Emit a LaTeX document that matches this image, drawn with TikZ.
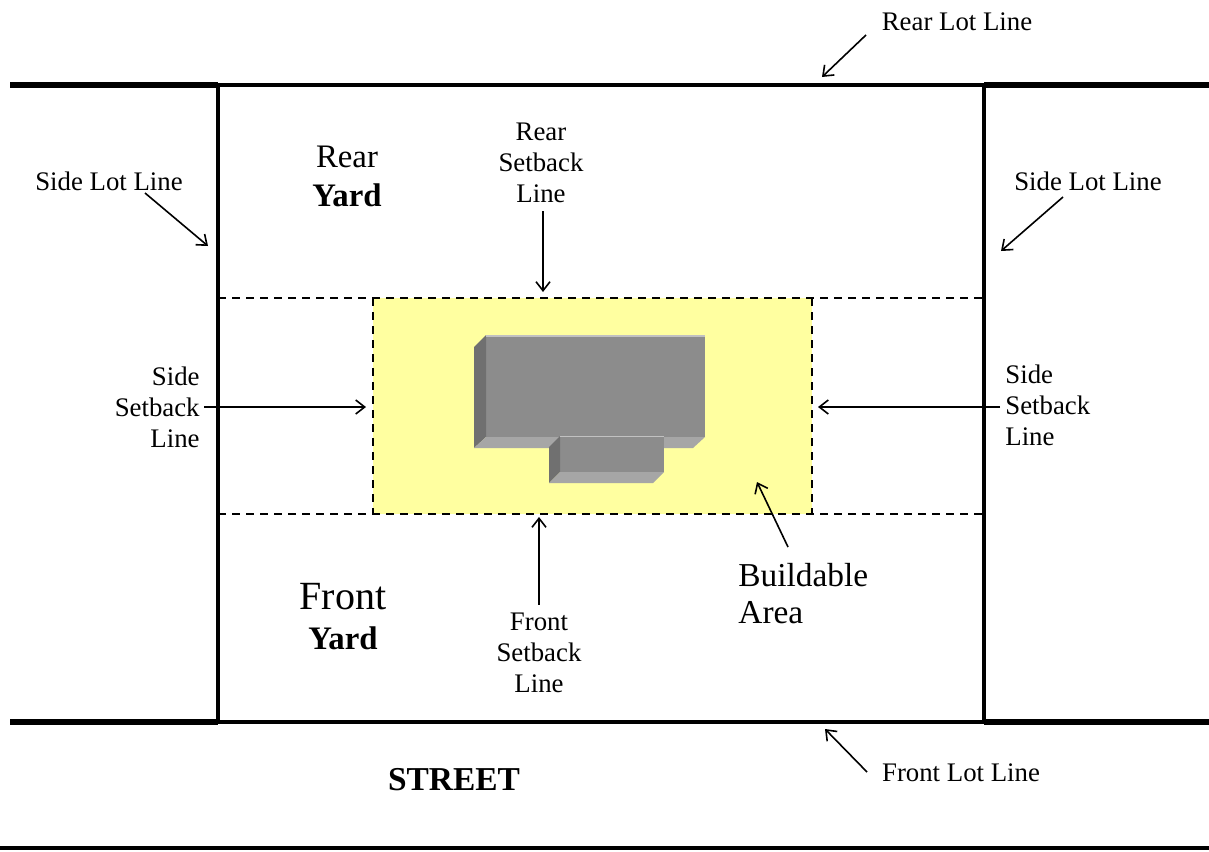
\documentclass[tikz,border=0pt]{standalone}
\usepackage{fontspec}
\setmainfont{Liberation Serif}
\usetikzlibrary{positioning,arrows.meta}

\definecolor{buildyellow}{RGB}{255,255,160}
\definecolor{facegray}{RGB}{140,140,140}
\definecolor{sidegray}{RGB}{112,112,112}
\definecolor{basegray}{RGB}{166,166,166}

\begin{document}
\begin{tikzpicture}[x=0.5pt, y=-0.5pt,
        streetline/.style={line width=2.6pt},
        lotline/.style={line width=1.8pt},
        sideline/.style={line width=2pt},
        setback/.style={line width=0.7pt, dash pattern=on 4pt off 3pt},
        smalltext/.style={font=\fontsize{13.4}{15.5}\selectfont, align=center, inner sep=0pt},
        yardtext/.style={font=\fontsize{16.4}{19}\selectfont, inner sep=0pt},
        areatext/.style={font=\fontsize{16.7}{18.5}\selectfont, align=left, inner sep=0pt}
    ]

    %styles
    \tikzstyle{pointer}=[-{Straight Barb[length=4.5pt,width=7pt]},line width=0.8pt]
    \tikzstyle{edge}=[basegray!70!white,line width=0.6pt]

    \useasboundingbox (0,0) rectangle (1209,851);

    %buildable area
    \fill[buildyellow] (373,298) rectangle (812,514);
    \draw[setback] (218,298) -- (984,298);
    \draw[setback] (218,514) -- (984,514);
    \draw[setback] (373,298) -- (373,514);
    \draw[setback] (812,298) -- (812,514);

    %building
    \fill[facegray] (486,335) rectangle (705,437);
    \fill[sidegray] (486,335) -- (474,347) -- (474,448) -- (486,437) -- cycle;
    \fill[basegray] (474,448) -- (486,437) -- (705,437) -- (693,448) -- cycle;
    \draw[edge] (486,336) -- (705,336);
    \fill[facegray] (560,436) rectangle (664,472);
    \fill[sidegray] (560,436) -- (549,447) -- (549,483) -- (560,472) -- cycle;
    \fill[basegray] (549,483) -- (560,472) -- (664,472) -- (653,483) -- cycle;
    \draw[edge] (560,436.5) -- (664,436.5);

    %lot lines
    \draw[streetline] (10,85) -- (218,85);
    \draw[lotline] (218,85) -- (984,85);
    \draw[streetline] (984,85) -- (1209,85);
    \draw[streetline] (10,722) -- (218,722);
    \draw[lotline] (218,722) -- (984,722);
    \draw[streetline] (984,722) -- (1209,722);
    \draw[sideline] (218,85) -- (218,722);
    \draw[sideline] (984,85) -- (984,722);
    \draw[lotline] (0,848) -- (1209,848);

    %nodes
    \node[smalltext] (rearlot) at (957,22) {Rear Lot Line};
    \node[smalltext] (sidelotL) at (109,181) {Side Lot Line};
    \node[smalltext] (sidelotR) at (1088,181) {Side Lot Line};
    \node[smalltext] (frontlot) at (961,773) {Front Lot Line};
    \node[smalltext] (rearsb) at (541,163) {Rear\\Setback\\Line};
    \node[smalltext] (frontsb) at (539,653) {Front\\Setback\\Line};
    \node[smalltext, align=right, anchor=east] (sidesbL) at (200,407) {Side\\Setback\\Line};
    \node[smalltext, align=left, anchor=west] (sidesbR) at (1005,405) {Side\\Setback\\Line};
    \node[yardtext] (rear) at (347,157) {Rear};
    \node[yardtext, font=\fontsize{16.4}{19}\selectfont\bfseries] (rearyard) at (347,195) {Yard};
    \node[yardtext, font=\fontsize{20}{22}\selectfont] (front) at (343,597) {Front};
    \node[yardtext, font=\fontsize{16.4}{19}\selectfont\bfseries] (frontyard) at (343,638) {Yard};
    \node[areatext, anchor=west] (buildable) at (738,594) {Buildable\\Area};
    \node[yardtext, font=\fontsize{16.7}{19}\selectfont\bfseries] (street) at (454,780) {STREET};

    \coordinate (rearlotP) at (822,77);
    \coordinate (sidelotLP) at (208,246);
    \coordinate (sidelotRP) at (1001,251);
    \coordinate (frontlotP) at (825,729);
    \coordinate (rearsbP) at (543,292);
    \coordinate (frontsbP) at (539,517);
    \coordinate (sidesbLP) at (366,407);
    \coordinate (sidesbRP) at (818,407);
    \coordinate (buildableP) at (757,482);

    %arrows
    \draw[pointer] (866,35) -- (rearlotP);
    \draw[pointer] (145,193) -- (sidelotLP);
    \draw[pointer] (1063,197) -- (sidelotRP);
    \draw[pointer] (867,772) -- (frontlotP);
    \draw[pointer] (rearsb.south) ++(2,8) -- (rearsbP);
    \draw[pointer] (frontsb.north) ++(0,-8) -- (frontsbP);
    \draw[pointer] (sidesbL.east) ++(4,0) -- (sidesbLP);
    \draw[pointer] (sidesbR.west) ++(-5,2) -- (sidesbRP);
    \draw[pointer] (788,547) -- (buildableP);

\end{tikzpicture}
\end{document}
